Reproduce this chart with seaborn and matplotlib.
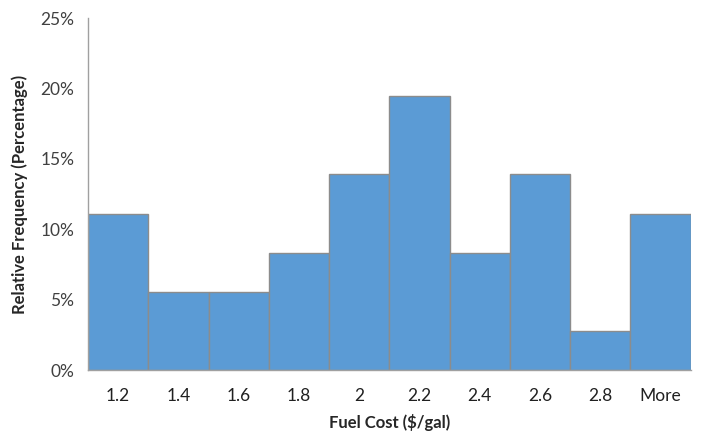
import numpy as np
import matplotlib.pyplot as plt
import seaborn as sns
from matplotlib.ticker import PercentFormatter

# ----- DATA -----
bins = ['1.2', '1.4', '1.6', '1.8', '2', '2.2', '2.4', '2.6', '2.8', 'More']
rel_freq = [11.11, 5.56, 5.56, 8.33, 13.89, 19.44, 8.33, 13.89, 2.78, 11.11]

sns.set_style("white")
plt.rcParams['font.family'] = ['Lato', 'DejaVu Sans']

fig = plt.figure(figsize=(7.07, 4.32), dpi=100)
ax = fig.add_axes([0.1245, 0.1435, 0.8525, 0.8148])

sns.barplot(x=bins, y=rel_freq, color='#5B9BD5', edgecolor='#8C8C8C',
            linewidth=1, width=1.0, saturation=1, ax=ax)

ax.set_xlim(-0.5, len(bins) - 0.5)
ax.set_ylim(0, 25)
ax.yaxis.set_major_formatter(PercentFormatter(decimals=0))
ax.set_yticks([0, 5, 10, 15, 20, 25])

# tick marks sit on the bin edges, labels at the bin centres
ax.set_xticks(np.arange(-0.5, len(bins), 1), minor=True)
ax.tick_params(axis='x', which='major', length=0, pad=13, labelsize=12.5, labelcolor='#202020')
ax.tick_params(axis='x', which='minor', length=6, color='#A0A0A0', width=1, direction='out')
ax.tick_params(axis='y', length=6, color='#A0A0A0', width=1, direction='out', pad=4,
               labelsize=12.5, labelcolor='#404040')

for side in ['top', 'right']:
    ax.spines[side].set_visible(False)
for side in ['left', 'bottom']:
    ax.spines[side].set_color('#A0A0A0')
    ax.spines[side].set_linewidth(1)

ax.set_xlabel("Fuel Cost ($/gal)", fontsize=12, fontweight='bold', labelpad=7)
ax.set_ylabel("Relative Frequency (Percentage)", fontsize=12, fontweight='bold', labelpad=9)

fig.savefig("out.png", dpi=100)
